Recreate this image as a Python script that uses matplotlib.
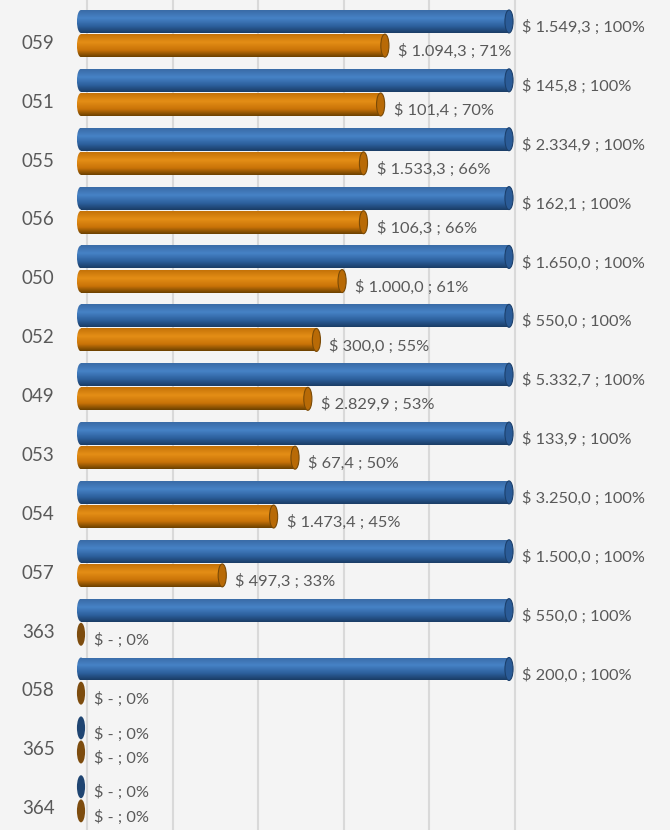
import numpy as np
import matplotlib
matplotlib.use('Agg')
import matplotlib.pyplot as plt
from matplotlib.patches import Ellipse
from matplotlib.colors import LinearSegmentedColormap
from matplotlib.transforms import ScaledTranslation

cats = ['059', '051', '055', '056', '050', '052', '049', '053', '054', '057', '363', '058', '365', '364']
budget = [1549.3, 145.8, 2334.9, 162.1, 1650.0, 550.0, 5332.7, 133.9, 3250.0, 1500.0, 550.0, 200.0, 0, 0]
executed = [1094.3, 101.4, 1533.3, 106.3, 1000.0, 300.0, 2829.9, 67.4, 1473.4, 497.3, 0, 0, 0, 0]
pct_budget = [100, 100, 100, 100, 100, 100, 100, 100, 100, 100, 100, 100, 0, 0]
pct_exec = [71, 70, 66, 66, 61, 55, 53, 50, 45, 33, 0, 0, 0, 0]

BG = '#f4f4f4'
TXT = '#595959'
blue_grad = LinearSegmentedColormap.from_list(
    'b', [(0, '#3a6ba6'), (0.35, '#4682c6'), (0.7, '#2d609d'), (1, '#1a3d66')])
orange_grad = LinearSegmentedColormap.from_list(
    'o', [(0, '#c47208'), (0.35, '#e48e16'), (0.7, '#c97308'), (1, '#6c4100')])
blue_cap, blue_cap_edge, blue_zero = '#2a5b97', '#1c406c', '#1f4572'
orange_cap, orange_cap_edge, orange_zero = '#b86a06', '#7a4a06', '#7d4c0e'

plt.rcParams['font.family'] = ['Lato', 'DejaVu Sans']

# x range padded so the rounded ends are not clipped
x_lo, x_hi = -2.6, 102.0
px_per = 4.28
fig = plt.figure(figsize=(6.7, 8.3), dpi=100, facecolor=BG)
left_px = 81 + x_lo * px_per
ax = fig.add_axes([left_px / 670, 0, (x_hi - x_lo) * px_per / 670, 1])
ax.set_facecolor(BG)

y = np.arange(len(cats))
h = 0.39
off = 0.205
capw = 1.9    # end-cap width in data units
depth = 1.4   # gridline shift from the 3d floor

grad = np.linspace(0, 1, 64).reshape(-1, 1)


def cylinder(yc, w, cmap, cap, cap_edge, zero):
    if w <= 0:
        ax.add_patch(Ellipse((0, yc), capw, h, facecolor=zero, edgecolor='none', zorder=3))
        return
    bar = ax.barh(yc, w, height=h, color='none', zorder=2)[0]
    im = ax.imshow(grad, cmap=cmap, aspect='auto', extent=(0, w, yc + h / 2, yc - h / 2),
                   origin='upper', zorder=2, interpolation='bilinear')
    im.set_clip_path(bar)
    left = Ellipse((0, yc), capw, h, facecolor='none', edgecolor='none')
    ax.add_patch(left)
    im2 = ax.imshow(grad, cmap=cmap, aspect='auto', extent=(-capw / 2, 0.5, yc + h / 2, yc - h / 2),
                    origin='upper', zorder=2, interpolation='bilinear')
    im2.set_clip_path(left)
    ax.add_patch(Ellipse((w, yc), capw, h, facecolor=cap, edgecolor=cap_edge, lw=0.8, zorder=3))


def money(v):
    if v == 0:
        return '$ -'
    s = f'{v:,.1f}'.replace(',', 'X').replace('.', ',').replace('X', '.')
    return '$ ' + s


for i in range(len(cats)):
    yb = y[i] - off
    yo = y[i] + off
    cylinder(yb, pct_budget[i], blue_grad, blue_cap, blue_cap_edge, blue_zero)
    cylinder(yo, pct_exec[i], orange_grad, orange_cap, orange_cap_edge, orange_zero)
    ax.annotate(f'{money(budget[i])} ; {pct_budget[i]}%', (pct_budget[i], yb),
                xytext=(9.4, -4.3), textcoords='offset points', va='center', ha='left',
                fontsize=11.8, color=TXT, annotation_clip=False)
    ax.annotate(f'{money(executed[i])} ; {pct_exec[i]}%', (pct_exec[i], yo),
                xytext=(9.4, -4.3), textcoords='offset points', va='center', ha='left',
                fontsize=11.8, color=TXT, annotation_clip=False)

for g in range(0, 101, 20):
    ax.axvline(g + depth, color='#d9d9d9', lw=1.5, zorder=1)

ax.set_xlim(x_lo, x_hi)
ax.set_ylim(13.53, -0.57)
ax.set_xticks([])
ax.set_yticks(y)
ax.set_yticklabels(cats, fontsize=13.5, color=TXT)
ax.tick_params(axis='y', length=0, pad=11)
for lab in ax.get_yticklabels():
    lab.set_transform(lab.get_transform() + ScaledTranslation(0, -6 / 72, fig.dpi_scale_trans))
for s in ax.spines.values():
    s.set_visible(False)

fig.savefig('out.png', dpi=100, facecolor=BG)
